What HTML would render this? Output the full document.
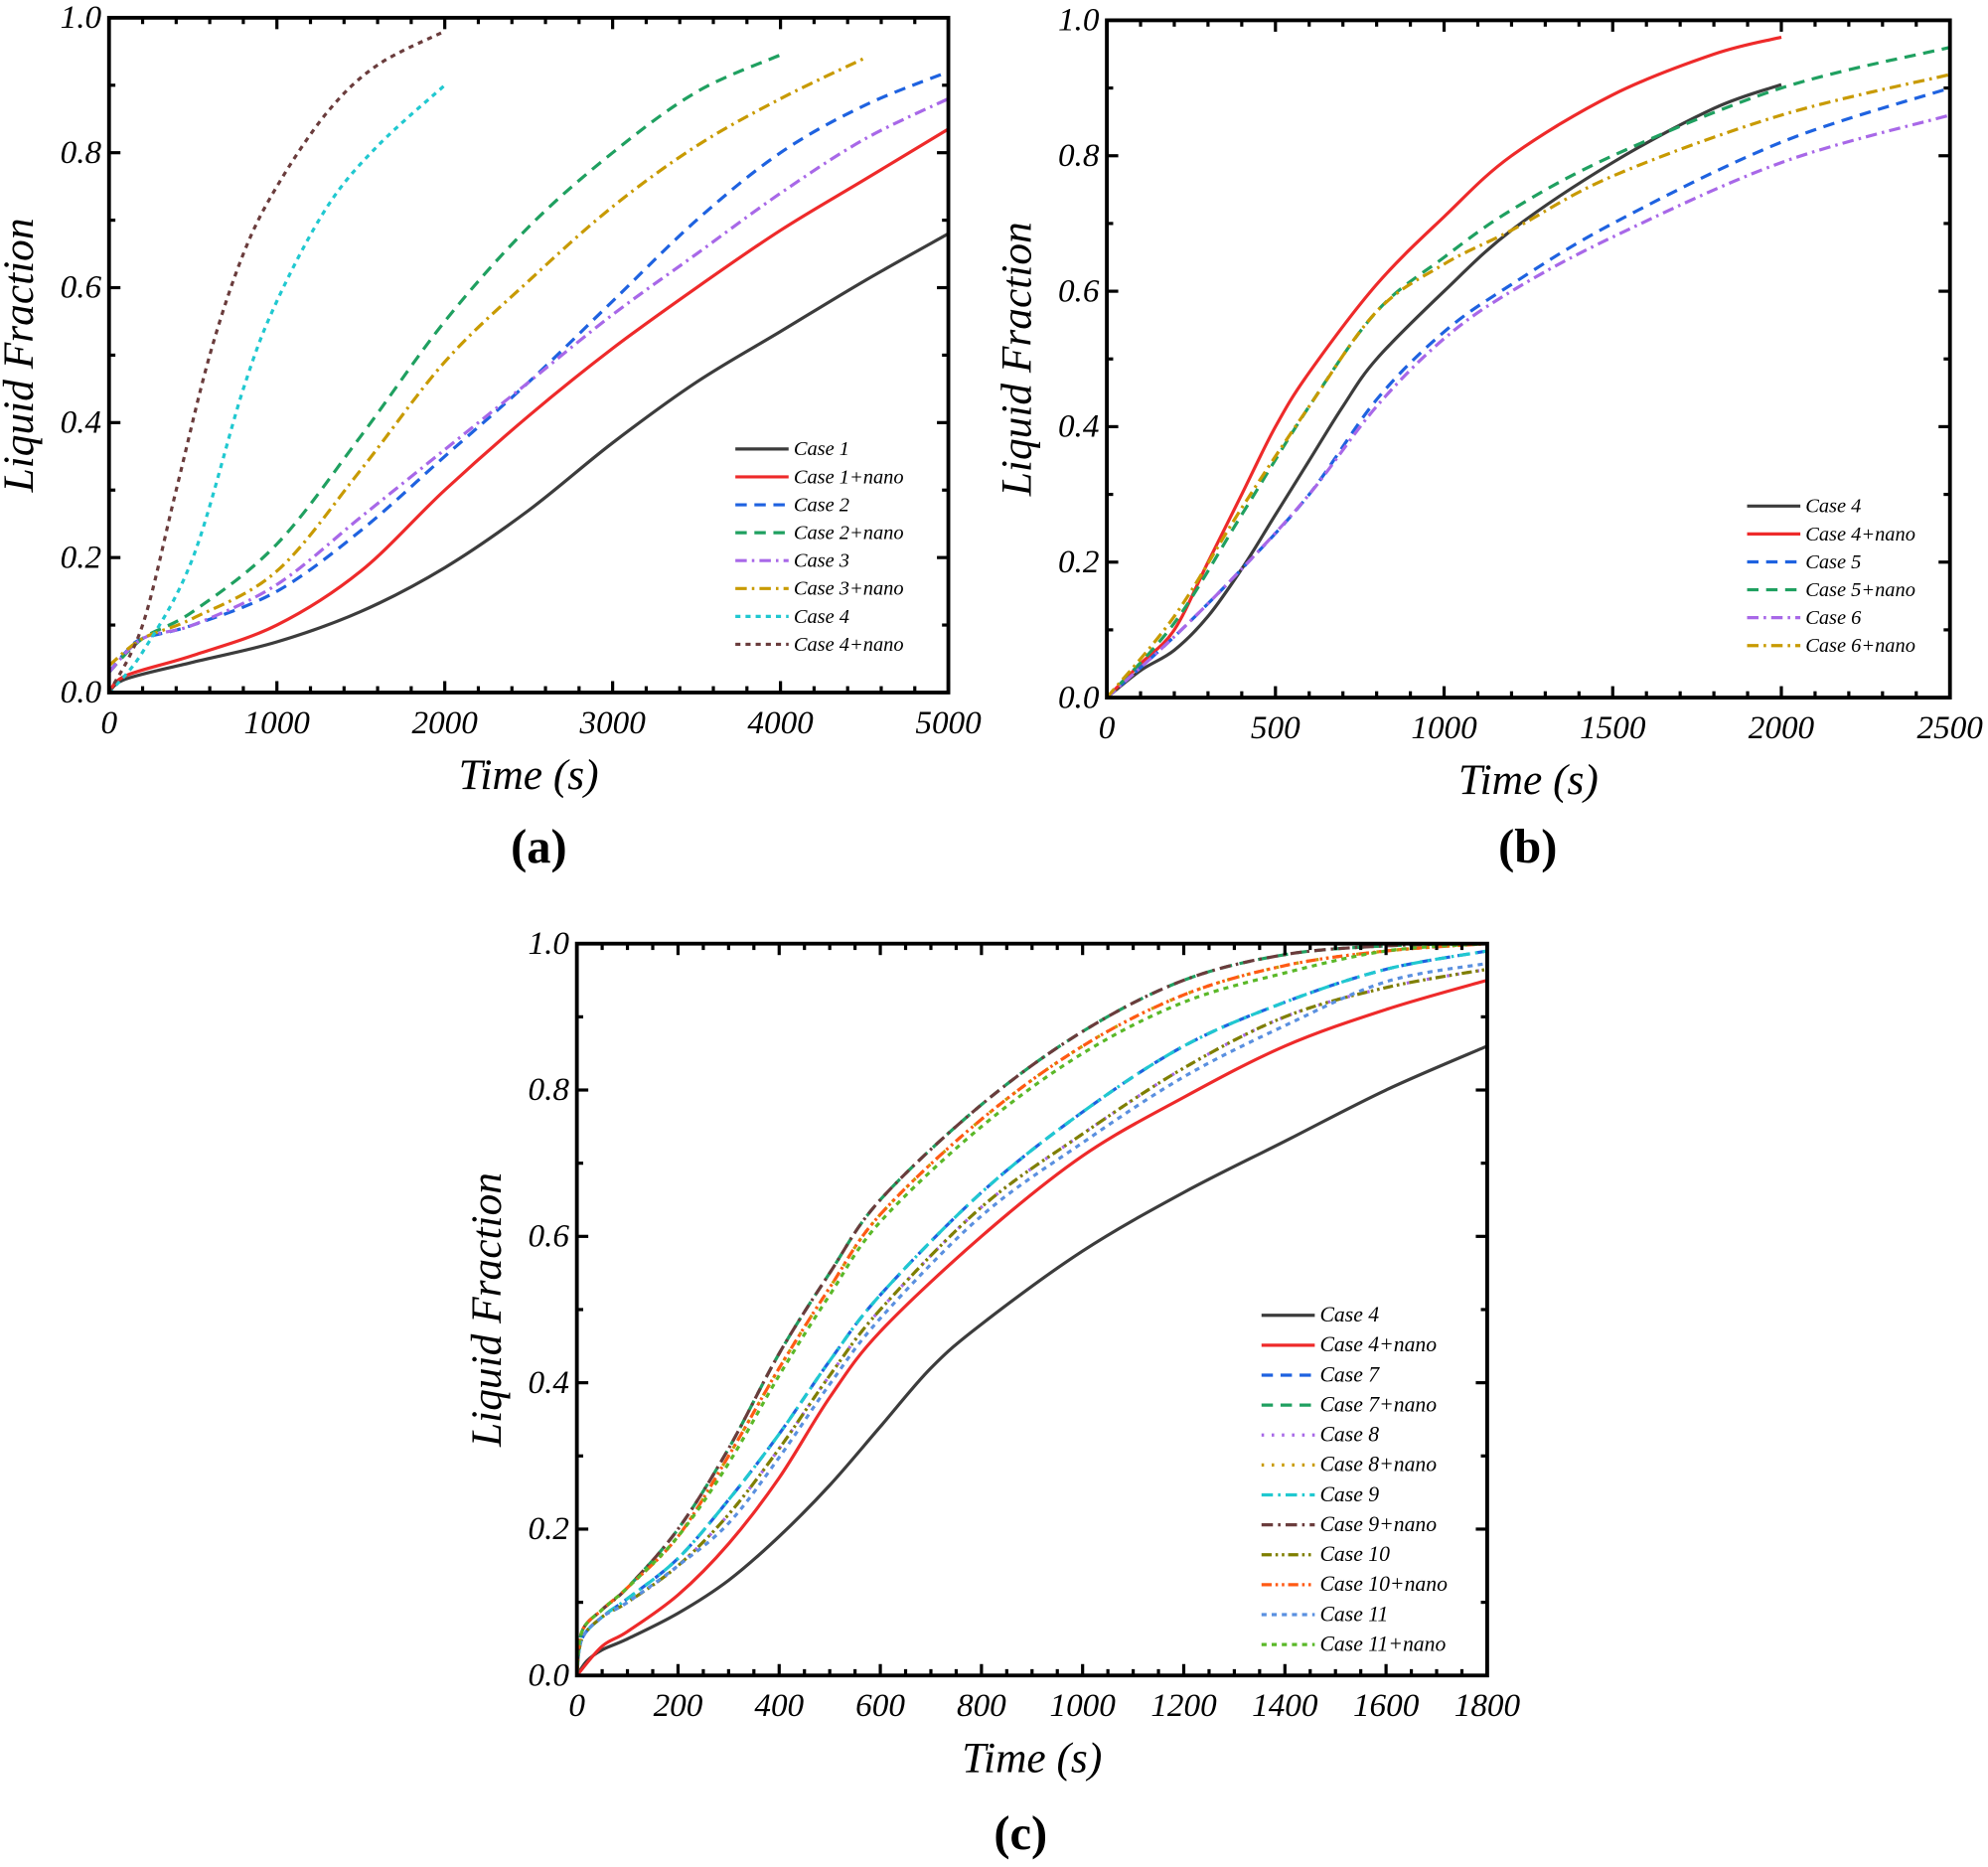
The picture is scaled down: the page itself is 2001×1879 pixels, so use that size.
<!DOCTYPE html>
<html><head><meta charset="utf-8"><style>
html,body{margin:0;padding:0;background:#fff}
svg{display:block}
text{font-family:"Liberation Serif",serif}
</style></head><body>
<svg id="s" width="2001" height="1879" viewBox="0 0 1568 1472" preserveAspectRatio="none" xmlns="http://www.w3.org/2000/svg">
<rect width="1568" height="1472" fill="#fff"/>
<g id="g"></g>
<text x="425" y="680" font-size="38" font-weight="bold" text-anchor="middle">(a)</text>
<text x="1205" y="680" font-size="38" font-weight="bold" text-anchor="middle">(b)</text>
<text x="805" y="1458" font-size="38" font-weight="bold" text-anchor="middle">(c)</text>
</svg>
<script>
(function(){
const G=document.getElementById('g');let h='';
const C={blk:'#3c3c3c',red:'#ee2a2a',blue:'#1e62e0',green:'#1fa060',purp:'#a868e8',gold:'#c89a00',cyan:'#20c8d0',brown:'#6a3c3c',olive:'#7f7f00',orange:'#ff5a14',lblue:'#5a90e0',lime:'#5ab828'};
const D={solid:'',dash:'9,6',dd:'9,4,2,4',dot:'4,4',sdot:'2,6',ddd:'8,3,2,3,2,3'};
function panel(p){
 const {L,R,T,B,xmax,xt,minor,series,lx,ly,dy,fs,tfs}=p;
 const X=v=>L+(R-L)*v/xmax, Y=v=>B-(B-T)*v;
 h+=`<clipPath id="c${L}"><rect x="${L}" y="${T}" width="${R-L}" height="${B-T}"/></clipPath>`;
 for(const s of series){
  const pts=s.d.map(q=>[X(q[0]),Y(q[1])]);
  let d=`M${pts[0][0]},${pts[0][1]}`;
  for(let i=0;i<pts.length-1;i++){
   const p0=pts[Math.max(0,i-1)],p1=pts[i],p2=pts[i+1],p3=pts[Math.min(pts.length-1,i+2)];
   d+=` C${p1[0]+(p2[0]-p0[0])/6},${p1[1]+(p2[1]-p0[1])/6} ${p2[0]-(p3[0]-p1[0])/6},${p2[1]-(p3[1]-p1[1])/6} ${p2[0]},${p2[1]}`;
  }
  h+=`<path d="${d}" fill="none" stroke="${s.c}" stroke-width="2.5" stroke-dasharray="${s.s}" clip-path="url(#c${L})"/>`;
 }
 h+=`<rect x="${L}" y="${T}" width="${R-L}" height="${B-T}" fill="none" stroke="#000" stroke-width="3"/>`;
 for(let i=0;i<=10;i++){const y=Y(i/10),big=i%2==0?9:5;
  h+=`<line x1="${L}" x2="${L+big}" y1="${y}" y2="${y}" stroke="#000" stroke-width="2.5"/><line x1="${R}" x2="${R-big}" y1="${y}" y2="${y}" stroke="#000" stroke-width="2.5"/>`;
  if(i%2==0)h+=`<text x="${L-6}" y="${y+8}" font-size="${tfs}" font-style="italic" text-anchor="end">${(i/10).toFixed(1)}</text>`;}
 for(let v=0;v<=xmax+1e-6;v+=minor){const x=X(v),maj=Math.abs(v/xt-Math.round(v/xt))<1e-6,big=maj?9:5;
  h+=`<line x1="${x}" x2="${x}" y1="${B}" y2="${B-big}" stroke="#000" stroke-width="2.5"/><line x1="${x}" x2="${x}" y1="${T}" y2="${T+big}" stroke="#000" stroke-width="2.5"/>`;
  if(maj)h+=`<text x="${x}" y="${B+32}" font-size="${tfs}" font-style="italic" text-anchor="middle">${Math.round(v)}</text>`;}
 h+=`<text x="${(L+R)/2}" y="${B+76}" font-size="34" font-style="italic" text-anchor="middle">Time (s)</text>`;
 h+=`<text transform="translate(${L-60},${(T+B)/2}) rotate(-90)" font-size="34" font-style="italic" text-anchor="middle">Liquid Fraction</text>`;
 series.forEach((s,i)=>{const y=ly+i*dy;
  h+=`<line x1="${lx}" x2="${lx+42}" y1="${y}" y2="${y}" stroke="${s.c}" stroke-width="2.5" stroke-dasharray="${s.s}"/><text x="${lx+46}" y="${y+5}" font-size="${fs}" font-style="italic">${s.n}</text>`;});
}
panel({L:86,R:748,T:14,B:546,xmax:5000,xt:1000,minor:200,tfs:26,fs:16,lx:580,ly:354,dy:22,series:[
{n:'Case 1',c:C.blk,s:D.solid,d:[[0,0],[100,0.02],[500,0.045],[1000,0.075],[1500,0.12],[2000,0.185],[2500,0.27],[3000,0.37],[3500,0.46],[4000,0.535],[4500,0.61],[5000,0.68]]},
{n:'Case 1+nano',c:C.red,s:D.solid,d:[[0,0],[100,0.025],[500,0.055],[1000,0.1],[1500,0.18],[2000,0.3],[2500,0.41],[3000,0.51],[3500,0.6],[4000,0.685],[4500,0.76],[5000,0.835]]},
{n:'Case 2',c:C.blue,s:D.dash,d:[[0,0.03],[100,0.06],[200,0.08],[500,0.1],[1000,0.15],[1500,0.24],[2000,0.35],[2500,0.46],[3000,0.58],[3500,0.7],[4000,0.8],[4500,0.87],[5000,0.92]]},
{n:'Case 2+nano',c:C.green,s:D.dash,d:[[0,0.03],[200,0.08],[500,0.12],[1000,0.22],[1500,0.38],[2000,0.55],[2500,0.69],[3000,0.8],[3500,0.89],[4000,0.945]]},
{n:'Case 3',c:C.purp,s:D.dd,d:[[0,0.03],[200,0.08],[500,0.1],[1000,0.16],[1500,0.26],[2000,0.36],[2500,0.46],[3000,0.56],[3500,0.65],[4000,0.74],[4500,0.82],[5000,0.88]]},
{n:'Case 3+nano',c:C.gold,s:D.dd,d:[[0,0.04],[200,0.08],[500,0.11],[1000,0.18],[1500,0.33],[2000,0.49],[2500,0.61],[3000,0.72],[3500,0.81],[4000,0.88],[4500,0.94]]},
{n:'Case 4',c:C.cyan,s:D.dot,d:[[0,0],[200,0.06],[500,0.2],[800,0.45],[1000,0.58],[1300,0.72],[1600,0.81],[2000,0.9]]},
{n:'Case 4+nano',c:C.brown,s:D.dot,d:[[0,0],[200,0.1],[400,0.3],[600,0.5],[800,0.65],[1000,0.75],[1300,0.86],[1600,0.93],[2000,0.98]]}]});
panel({L:873,R:1538,T:16,B:550,xmax:2500,xt:500,minor:100,tfs:26,fs:16,lx:1378,ly:399,dy:22,series:[
{n:'Case 4',c:C.blk,s:D.solid,d:[[0,0],[100,0.04],[200,0.07],[300,0.12],[400,0.19],[500,0.27],[600,0.35],[700,0.43],[800,0.5],[1000,0.6],[1200,0.69],[1500,0.79],[1800,0.87],[2000,0.905]]},
{n:'Case 4+nano',c:C.red,s:D.solid,d:[[0,0],[100,0.05],[200,0.1],[300,0.2],[400,0.3],[500,0.4],[600,0.48],[800,0.61],[1000,0.71],[1200,0.8],[1500,0.89],[1800,0.95],[2000,0.975]]},
{n:'Case 5',c:C.blue,s:D.dash,d:[[0,0],[200,0.09],[400,0.19],[600,0.3],[800,0.44],[1000,0.54],[1200,0.61],[1500,0.7],[2000,0.82],[2500,0.9]]},
{n:'Case 5+nano',c:C.green,s:D.dash,d:[[0,0],[200,0.11],[400,0.27],[600,0.43],[800,0.57],[1000,0.65],[1200,0.72],[1500,0.8],[2000,0.9],[2500,0.96]]},
{n:'Case 6',c:C.purp,s:D.dd,d:[[0,0],[200,0.09],[400,0.19],[600,0.3],[800,0.43],[1000,0.53],[1200,0.6],[1500,0.68],[2000,0.79],[2500,0.86]]},
{n:'Case 6+nano',c:C.gold,s:D.dd,d:[[0,0],[200,0.12],[400,0.28],[600,0.43],[800,0.57],[1000,0.64],[1200,0.69],[1500,0.77],[2000,0.86],[2500,0.92]]}]});
const mid=[[0,0],[10,0.05],[50,0.08],[100,0.105],[200,0.16],[300,0.24],[400,0.33],[500,0.43],[600,0.52],[800,0.66],[1000,0.77],[1200,0.86],[1400,0.92],[1600,0.965],[1800,0.99]];
const low=[[0,0],[10,0.05],[50,0.08],[100,0.1],[200,0.15],[300,0.22],[400,0.31],[500,0.41],[600,0.5],[800,0.64],[1000,0.74],[1200,0.83],[1400,0.9],[1600,0.94],[1800,0.965]];
const low2=low.map(q=>[q[0],q[0]>=300?q[1]-0.012+(q[0]>1500?0.02:0):q[1]]);
const upper=[[0,0],[10,0.06],[50,0.09],[100,0.12],[200,0.2],[300,0.31],[400,0.44],[500,0.55],[600,0.65],[800,0.78],[1000,0.88],[1200,0.95],[1400,0.985],[1600,0.997],[1800,1.0]];
const upper2=[[0,0],[10,0.06],[50,0.09],[100,0.12],[200,0.19],[300,0.3],[400,0.42],[500,0.53],[600,0.63],[800,0.76],[1000,0.86],[1200,0.93],[1400,0.97],[1600,0.99],[1800,1.0]];
panel({L:455,R:1173,T:744,B:1321,xmax:1800,xt:200,minor:50,tfs:26,fs:17,lx:995,ly:1037,dy:23.6,series:[
{n:'Case 4',c:C.blk,s:D.solid,d:[[0,0],[20,0.02],[50,0.035],[100,0.05],[200,0.085],[300,0.13],[400,0.19],[500,0.26],[600,0.34],[700,0.42],[800,0.48],[1000,0.58],[1200,0.66],[1400,0.73],[1600,0.8],[1800,0.86]]},
{n:'Case 4+nano',c:C.red,s:D.solid,d:[[0,0],[50,0.04],[100,0.06],[200,0.11],[300,0.18],[400,0.27],[500,0.38],[600,0.47],[800,0.6],[1000,0.71],[1200,0.79],[1400,0.86],[1600,0.91],[1800,0.95]]},
{n:'Case 7',c:C.blue,s:D.dash,d:mid},
{n:'Case 7+nano',c:C.green,s:D.dash,d:upper},
{n:'Case 8',c:C.purp,s:D.sdot,d:low},
{n:'Case 8+nano',c:C.gold,s:D.sdot,d:upper2},
{n:'Case 9',c:C.cyan,s:D.dd,d:mid},
{n:'Case 9+nano',c:C.brown,s:D.dd,d:upper},
{n:'Case 10',c:C.olive,s:D.ddd,d:low},
{n:'Case 10+nano',c:C.orange,s:D.ddd,d:upper2},
{n:'Case 11',c:C.lblue,s:D.dot,d:low2},
{n:'Case 11+nano',c:C.lime,s:D.dot,d:upper2.map(q=>[q[0],q[0]>=300&&q[0]<1600?q[1]-0.01:q[1]])}]});
G.innerHTML=h;
})();
</script>
</body></html>
